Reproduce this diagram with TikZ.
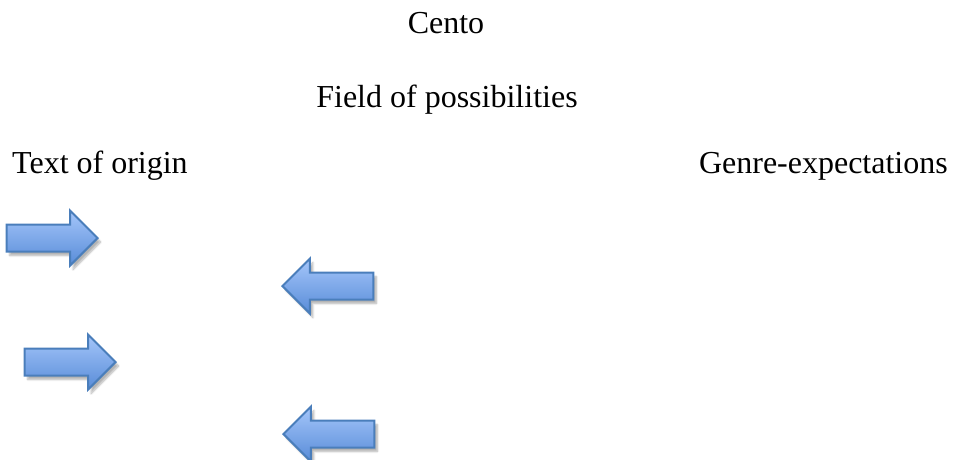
\documentclass[tikz,border=0pt]{standalone}
\usepackage{fontspec}
\setmainfont{Liberation Serif}
\usetikzlibrary{shapes.arrows,shadows.blur}

\definecolor{arrowline}{RGB}{74,126,187}
\definecolor{arrowtop}{RGB}{165,198,250}
\definecolor{arrowbottom}{RGB}{88,140,216}

\tikzset{
  label/.style={font=\fontsize{32}{38}\selectfont, inner sep=0pt},
  blockarrow/.style={shape=single arrow, draw=arrowline, line width=2pt,
    top color=arrowtop, bottom color=arrowbottom,
    inner xsep=0pt, inner ysep=12.5pt, text height=0pt, text depth=0pt,
    minimum width=53pt, minimum height=91pt,
    single arrow head extend=14pt, anchor=tip,
    blur shadow={shadow xshift=3pt, shadow yshift=-4pt, shadow opacity=30, shadow blur steps=6}}
}

\begin{document}
\begin{tikzpicture}[x=1pt, y=-1pt]
\useasboundingbox (0,0) rectangle (961,459);

% titles
\node[label, anchor=base] (cento) at (446,33) {Cento};
\node[label, anchor=base] (field) at (447,107) {Field of possibilities};
\node[label, anchor=base west] (origin) at (12,173) {Text of origin};
\node[label, anchor=base east] (genre) at (948,173) {Genre-expectations};

% arrows (placed by their tips)
\node[blockarrow] (right1) at (99,238) {};
\node[blockarrow, shape border rotate=180] (left1) at (281,286) {};
\node[blockarrow] (right2) at (117,362) {};
\node[blockarrow, shape border rotate=180] (left2) at (282,434) {};
\end{tikzpicture}
\end{document}
